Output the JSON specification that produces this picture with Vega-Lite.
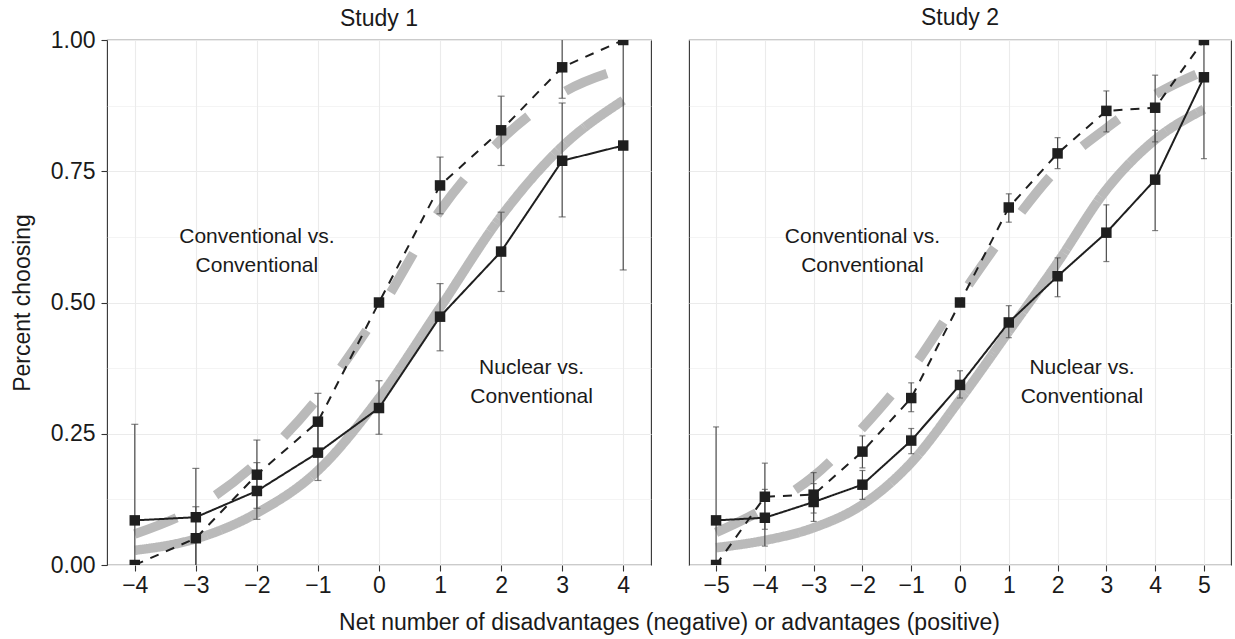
{
  "$schema": "https://vega.github.io/schema/vega-lite/v6.json",
  "background": "white",
  "padding": {"left": 10, "top": 6, "right": 0, "bottom": 0},
  "config": {
    "font": "Liberation Sans",
    "view": {"stroke": "#333333", "strokeWidth": 1.1},
    "axis": {
      "domain": false,
      "gridColor": "#ebebeb",
      "gridWidth": 1.1,
      "tickColor": "#333333",
      "tickWidth": 1.1,
      "tickSize": 6,
      "labelFont": "Liberation Sans",
      "labelFontSize": 23,
      "labelColor": "#1a1a1a",
      "titleFont": "Liberation Sans",
      "titleFontSize": 23,
      "titleFontWeight": "normal",
      "titleColor": "#1a1a1a"
    },
    "title": {"font": "Liberation Sans", "fontSize": 23, "fontWeight": "normal", "color": "#1a1a1a", "anchor": "middle", "baseline": "alphabetic", "offset": 10}
  },
  "datasets": {
    "fit": [
      {"study": "Study 1", "cond": "NvC", "x": -4, "y": 0.028},
      {"study": "Study 1", "cond": "NvC", "x": -3, "y": 0.050},
      {"study": "Study 1", "cond": "NvC", "x": -2, "y": 0.099},
      {"study": "Study 1", "cond": "NvC", "x": -1, "y": 0.180},
      {"study": "Study 1", "cond": "NvC", "x": 0, "y": 0.318},
      {"study": "Study 1", "cond": "NvC", "x": 1, "y": 0.490},
      {"study": "Study 1", "cond": "NvC", "x": 2, "y": 0.664},
      {"study": "Study 1", "cond": "NvC", "x": 3, "y": 0.797},
      {"study": "Study 1", "cond": "NvC", "x": 4, "y": 0.885},
      {"study": "Study 1", "cond": "CvC", "x": -4, "y": 0.059},
      {"study": "Study 1", "cond": "CvC", "x": -3, "y": 0.109},
      {"study": "Study 1", "cond": "CvC", "x": -2, "y": 0.195},
      {"study": "Study 1", "cond": "CvC", "x": -1, "y": 0.318},
      {"study": "Study 1", "cond": "CvC", "x": 0, "y": 0.483},
      {"study": "Study 1", "cond": "CvC", "x": 1, "y": 0.675},
      {"study": "Study 1", "cond": "CvC", "x": 2, "y": 0.810},
      {"study": "Study 1", "cond": "CvC", "x": 3, "y": 0.899},
      {"study": "Study 1", "cond": "CvC", "x": 4, "y": 0.946},
      {"study": "Study 2", "cond": "NvC", "x": -5, "y": 0.033},
      {"study": "Study 2", "cond": "NvC", "x": -4, "y": 0.047},
      {"study": "Study 2", "cond": "NvC", "x": -3, "y": 0.071},
      {"study": "Study 2", "cond": "NvC", "x": -2, "y": 0.115},
      {"study": "Study 2", "cond": "NvC", "x": -1, "y": 0.195},
      {"study": "Study 2", "cond": "NvC", "x": 0, "y": 0.315},
      {"study": "Study 2", "cond": "NvC", "x": 1, "y": 0.445},
      {"study": "Study 2", "cond": "NvC", "x": 2, "y": 0.576},
      {"study": "Study 2", "cond": "NvC", "x": 3, "y": 0.715},
      {"study": "Study 2", "cond": "NvC", "x": 4, "y": 0.810},
      {"study": "Study 2", "cond": "NvC", "x": 5, "y": 0.868},
      {"study": "Study 2", "cond": "CvC", "x": -5, "y": 0.062},
      {"study": "Study 2", "cond": "CvC", "x": -4, "y": 0.108},
      {"study": "Study 2", "cond": "CvC", "x": -3, "y": 0.169},
      {"study": "Study 2", "cond": "CvC", "x": -2, "y": 0.261},
      {"study": "Study 2", "cond": "CvC", "x": -1, "y": 0.372},
      {"study": "Study 2", "cond": "CvC", "x": 0, "y": 0.510},
      {"study": "Study 2", "cond": "CvC", "x": 1, "y": 0.641},
      {"study": "Study 2", "cond": "CvC", "x": 2, "y": 0.755},
      {"study": "Study 2", "cond": "CvC", "x": 3, "y": 0.832},
      {"study": "Study 2", "cond": "CvC", "x": 4, "y": 0.896},
      {"study": "Study 2", "cond": "CvC", "x": 5, "y": 0.941}
    ],
    "pts": [
      {"study": "Study 1", "cond": "NvC", "x": -4, "y": 0.085, "lo": -0.098, "hi": 0.268},
      {"study": "Study 1", "cond": "NvC", "x": -3, "y": 0.091, "lo": -0.005, "hi": 0.184},
      {"study": "Study 1", "cond": "NvC", "x": -2, "y": 0.141, "lo": 0.087, "hi": 0.195},
      {"study": "Study 1", "cond": "NvC", "x": -1, "y": 0.214, "lo": 0.161, "hi": 0.267},
      {"study": "Study 1", "cond": "NvC", "x": 0, "y": 0.299, "lo": 0.249, "hi": 0.351},
      {"study": "Study 1", "cond": "NvC", "x": 1, "y": 0.473, "lo": 0.408, "hi": 0.536},
      {"study": "Study 1", "cond": "NvC", "x": 2, "y": 0.597, "lo": 0.521, "hi": 0.672},
      {"study": "Study 1", "cond": "NvC", "x": 3, "y": 0.770, "lo": 0.663, "hi": 0.880},
      {"study": "Study 1", "cond": "NvC", "x": 4, "y": 0.799, "lo": 0.562, "hi": 1.036},
      {"study": "Study 1", "cond": "CvC", "x": -4, "y": 0.0, "lo": 0.0, "hi": 0.0},
      {"study": "Study 1", "cond": "CvC", "x": -3, "y": 0.051, "lo": -0.01, "hi": 0.111},
      {"study": "Study 1", "cond": "CvC", "x": -2, "y": 0.172, "lo": 0.108, "hi": 0.238},
      {"study": "Study 1", "cond": "CvC", "x": -1, "y": 0.273, "lo": 0.219, "hi": 0.327},
      {"study": "Study 1", "cond": "CvC", "x": 0, "y": 0.5, "lo": 0.5, "hi": 0.5},
      {"study": "Study 1", "cond": "CvC", "x": 1, "y": 0.723, "lo": 0.669, "hi": 0.777},
      {"study": "Study 1", "cond": "CvC", "x": 2, "y": 0.828, "lo": 0.761, "hi": 0.893},
      {"study": "Study 1", "cond": "CvC", "x": 3, "y": 0.948, "lo": 0.889, "hi": 1.01},
      {"study": "Study 1", "cond": "CvC", "x": 4, "y": 1.0, "lo": 1.0, "hi": 1.0},
      {"study": "Study 2", "cond": "NvC", "x": -5, "y": 0.085, "lo": -0.093, "hi": 0.263},
      {"study": "Study 2", "cond": "NvC", "x": -4, "y": 0.090, "lo": 0.036, "hi": 0.144},
      {"study": "Study 2", "cond": "NvC", "x": -3, "y": 0.120, "lo": 0.083, "hi": 0.155},
      {"study": "Study 2", "cond": "NvC", "x": -2, "y": 0.153, "lo": 0.125, "hi": 0.180},
      {"study": "Study 2", "cond": "NvC", "x": -1, "y": 0.237, "lo": 0.212, "hi": 0.260},
      {"study": "Study 2", "cond": "NvC", "x": 0, "y": 0.343, "lo": 0.318, "hi": 0.370},
      {"study": "Study 2", "cond": "NvC", "x": 1, "y": 0.462, "lo": 0.433, "hi": 0.494},
      {"study": "Study 2", "cond": "NvC", "x": 2, "y": 0.550, "lo": 0.511, "hi": 0.585},
      {"study": "Study 2", "cond": "NvC", "x": 3, "y": 0.633, "lo": 0.578, "hi": 0.686},
      {"study": "Study 2", "cond": "NvC", "x": 4, "y": 0.734, "lo": 0.637, "hi": 0.828},
      {"study": "Study 2", "cond": "NvC", "x": 5, "y": 0.929, "lo": 0.774, "hi": 1.084},
      {"study": "Study 2", "cond": "CvC", "x": -5, "y": 0.0, "lo": 0.0, "hi": 0.0},
      {"study": "Study 2", "cond": "CvC", "x": -4, "y": 0.130, "lo": 0.068, "hi": 0.194},
      {"study": "Study 2", "cond": "CvC", "x": -3, "y": 0.134, "lo": 0.099, "hi": 0.176},
      {"study": "Study 2", "cond": "CvC", "x": -2, "y": 0.216, "lo": 0.185, "hi": 0.246},
      {"study": "Study 2", "cond": "CvC", "x": -1, "y": 0.318, "lo": 0.292, "hi": 0.347},
      {"study": "Study 2", "cond": "CvC", "x": 0, "y": 0.5, "lo": 0.5, "hi": 0.5},
      {"study": "Study 2", "cond": "CvC", "x": 1, "y": 0.681, "lo": 0.653, "hi": 0.707},
      {"study": "Study 2", "cond": "CvC", "x": 2, "y": 0.784, "lo": 0.755, "hi": 0.814},
      {"study": "Study 2", "cond": "CvC", "x": 3, "y": 0.865, "lo": 0.825, "hi": 0.903},
      {"study": "Study 2", "cond": "CvC", "x": 4, "y": 0.871, "lo": 0.806, "hi": 0.933},
      {"study": "Study 2", "cond": "CvC", "x": 5, "y": 1.0, "lo": 1.0, "hi": 1.0}
    ],
    "labels": [
      {"study": "Study 1", "x": -2, "y": 0.625, "text": "Conventional vs.\nConventional"},
      {"study": "Study 1", "x": 2.5, "y": 0.375, "text": "Nuclear vs.\nConventional"},
      {"study": "Study 2", "x": -2, "y": 0.625, "text": "Conventional vs.\nConventional"},
      {"study": "Study 2", "x": 2.5, "y": 0.375, "text": "Nuclear vs.\nConventional"}
    ]
  },
  "bounds": "flush",
  "spacing": 38,
  "hconcat": [
    {
      "width": 544,
      "height": 525,
      "title": {"text": "Study 1", "offset": -1.5},
      "encoding": {
        "x": {
          "field": "x", "type": "quantitative",
          "scale": {"domain": [-4.455, 4.455], "nice": false, "zero": false},
          "title": "Net number of disadvantages (negative) or advantages (positive)",
          "axis": {
            "values": [-4, -3, -2, -1, 0, 1, 2, 3, 4],
            "format": "d",
            "labelPadding": 3,
            "titleX": 562,
            "titleY": 64.5,
            "titleAlign": "center",
            "titleBaseline": "alphabetic",
            "titleAnchor": null
          }
        }
      },
      "layer": [
        {
          "data": {"name": "fit"},
          "transform": [{"filter": "datum.study == 'Study 1'"}],
          "mark": {"type": "line", "clip": true, "color": "#bababa", "strokeWidth": 9.5, "interpolate": "monotone", "strokeCap": "butt"},
          "encoding": {
            "y": {
              "field": "y", "type": "quantitative",
              "scale": {"domain": [0, 1], "nice": false, "zero": false},
              "title": "Percent choosing",
              "axis": {
                "values": [0, 0.125, 0.25, 0.375, 0.5, 0.625, 0.75, 0.875, 1],
                "labelExpr": "(datum.value*8)%2==0 ? format(datum.value,'.2f') : ''",
                "labelOverlap": false,
                "labelPadding": 6,
                "gridWidth": {"condition": {"test": "(datum.value*8)%2==0", "value": 1.1}, "value": 0.55},
                "tickOpacity": {"condition": {"test": "(datum.value*8)%2==0", "value": 1}, "value": 0},
                "titleX": -78,
                "titleY": 262.5,
                "titleAngle": 270,
                "titleAlign": "center",
                "titleBaseline": "alphabetic",
                "titleAnchor": null
              }
            },
            "detail": {"field": "cond"},
            "strokeDash": {"field": "cond", "type": "nominal", "scale": {"domain": ["NvC", "CvC"], "range": [[1, 0], [45, 45]]}, "legend": null}
          }
        },
        {
          "data": {"name": "pts"},
          "transform": [{"filter": "datum.study == 'Study 1' && datum.hi > datum.lo"}],
          "mark": {"type": "rule", "clip": true, "color": "#4d4d4d", "strokeWidth": 1.2},
          "encoding": {
            "y": {"field": "lo", "type": "quantitative", "title": "Percent choosing"},
            "y2": {"field": "hi"}
          }
        },
        {
          "data": {"name": "pts"},
          "transform": [{"filter": "datum.study == 'Study 1' && datum.hi > datum.lo"}],
          "mark": {"type": "tick", "clip": true, "color": "#4d4d4d", "orient": "horizontal", "size": 7, "thickness": 1.2},
          "encoding": {
            "y": {"field": "lo", "type": "quantitative", "title": "Percent choosing"}
          }
        },
        {
          "data": {"name": "pts"},
          "transform": [{"filter": "datum.study == 'Study 1' && datum.hi > datum.lo"}],
          "mark": {"type": "tick", "clip": true, "color": "#4d4d4d", "orient": "horizontal", "size": 7, "thickness": 1.2},
          "encoding": {
            "y": {"field": "hi", "type": "quantitative", "title": "Percent choosing"}
          }
        },
        {
          "data": {"name": "pts"},
          "transform": [{"filter": "datum.study == 'Study 1'"}],
          "mark": {"type": "line", "clip": true, "color": "#1f1f1f", "strokeWidth": 2},
          "encoding": {
            "y": {"field": "y", "type": "quantitative", "title": "Percent choosing"},
            "detail": {"field": "cond"},
            "strokeDash": {"field": "cond", "type": "nominal", "scale": {"domain": ["NvC", "CvC"], "range": [[1, 0], [9, 8]]}, "legend": null}
          }
        },
        {
          "data": {"name": "pts"},
          "transform": [{"filter": "datum.study == 'Study 1'"}],
          "mark": {"type": "point", "clip": true, "shape": "square", "filled": true, "color": "#1f1f1f", "opacity": 1, "size": 110},
          "encoding": {
            "y": {"field": "y", "type": "quantitative", "title": "Percent choosing"}
          }
        },
        {
          "data": {"name": "labels"},
          "transform": [{"filter": "datum.study == 'Study 1'"}],
          "mark": {"type": "text", "fontSize": 21, "lineBreak": "\n", "lineHeight": 29, "align": "center", "baseline": "middle", "color": "#1a1a1a"},
          "encoding": {
            "y": {"field": "y", "type": "quantitative", "title": "Percent choosing"},
            "text": {"field": "text"}
          }
        }
      ],
      "resolve": {"scale": {"strokeDash": "independent"}}
    },
    {
      "width": 542,
      "height": 525,
      "title": {"text": "Study 2", "offset": 10},
      "encoding": {
        "x": {
          "field": "x", "type": "quantitative",
          "scale": {"domain": [-5.555, 5.555], "nice": false, "zero": false},
          "title": null,
          "axis": {
            "values": [-5, -4, -3, -2, -1, 0, 1, 2, 3, 4, 5],
            "format": "d",
            "labelPadding": 3
          }
        }
      },
      "layer": [
        {
          "data": {"name": "fit"},
          "transform": [{"filter": "datum.study == 'Study 2'"}],
          "mark": {"type": "line", "clip": true, "color": "#bababa", "strokeWidth": 9.5, "interpolate": "monotone", "strokeCap": "butt"},
          "encoding": {
            "y": {
              "field": "y", "type": "quantitative",
              "scale": {"domain": [0, 1], "nice": false, "zero": false},
              "title": null,
              "axis": {
                "values": [0, 0.125, 0.25, 0.375, 0.5, 0.625, 0.75, 0.875, 1],
                "labels": false,
                "ticks": false,
                "gridWidth": {"condition": {"test": "(datum.value*8)%2==0", "value": 1.1}, "value": 0.55}
              }
            },
            "detail": {"field": "cond"},
            "strokeDash": {"field": "cond", "type": "nominal", "scale": {"domain": ["NvC", "CvC"], "range": [[1, 0], [45, 45]]}, "legend": null}
          }
        },
        {
          "data": {"name": "pts"},
          "transform": [{"filter": "datum.study == 'Study 2' && datum.hi > datum.lo"}],
          "mark": {"type": "rule", "clip": true, "color": "#4d4d4d", "strokeWidth": 1.2},
          "encoding": {
            "y": {"field": "lo", "type": "quantitative", "title": null},
            "y2": {"field": "hi"}
          }
        },
        {
          "data": {"name": "pts"},
          "transform": [{"filter": "datum.study == 'Study 2' && datum.hi > datum.lo"}],
          "mark": {"type": "tick", "clip": true, "color": "#4d4d4d", "orient": "horizontal", "size": 6, "thickness": 1.2},
          "encoding": {
            "y": {"field": "lo", "type": "quantitative", "title": null}
          }
        },
        {
          "data": {"name": "pts"},
          "transform": [{"filter": "datum.study == 'Study 2' && datum.hi > datum.lo"}],
          "mark": {"type": "tick", "clip": true, "color": "#4d4d4d", "orient": "horizontal", "size": 6, "thickness": 1.2},
          "encoding": {
            "y": {"field": "hi", "type": "quantitative", "title": null}
          }
        },
        {
          "data": {"name": "pts"},
          "transform": [{"filter": "datum.study == 'Study 2'"}],
          "mark": {"type": "line", "clip": true, "color": "#1f1f1f", "strokeWidth": 2},
          "encoding": {
            "y": {"field": "y", "type": "quantitative", "title": null},
            "detail": {"field": "cond"},
            "strokeDash": {"field": "cond", "type": "nominal", "scale": {"domain": ["NvC", "CvC"], "range": [[1, 0], [9, 8]]}, "legend": null}
          }
        },
        {
          "data": {"name": "pts"},
          "transform": [{"filter": "datum.study == 'Study 2'"}],
          "mark": {"type": "point", "clip": true, "shape": "square", "filled": true, "color": "#1f1f1f", "opacity": 1, "size": 110},
          "encoding": {
            "y": {"field": "y", "type": "quantitative", "title": null}
          }
        },
        {
          "data": {"name": "labels"},
          "transform": [{"filter": "datum.study == 'Study 2'"}],
          "mark": {"type": "text", "fontSize": 21, "lineBreak": "\n", "lineHeight": 29, "align": "center", "baseline": "middle", "color": "#1a1a1a"},
          "encoding": {
            "y": {"field": "y", "type": "quantitative", "title": null},
            "text": {"field": "text"}
          }
        }
      ],
      "resolve": {"scale": {"strokeDash": "independent"}}
    }
  ]
}
